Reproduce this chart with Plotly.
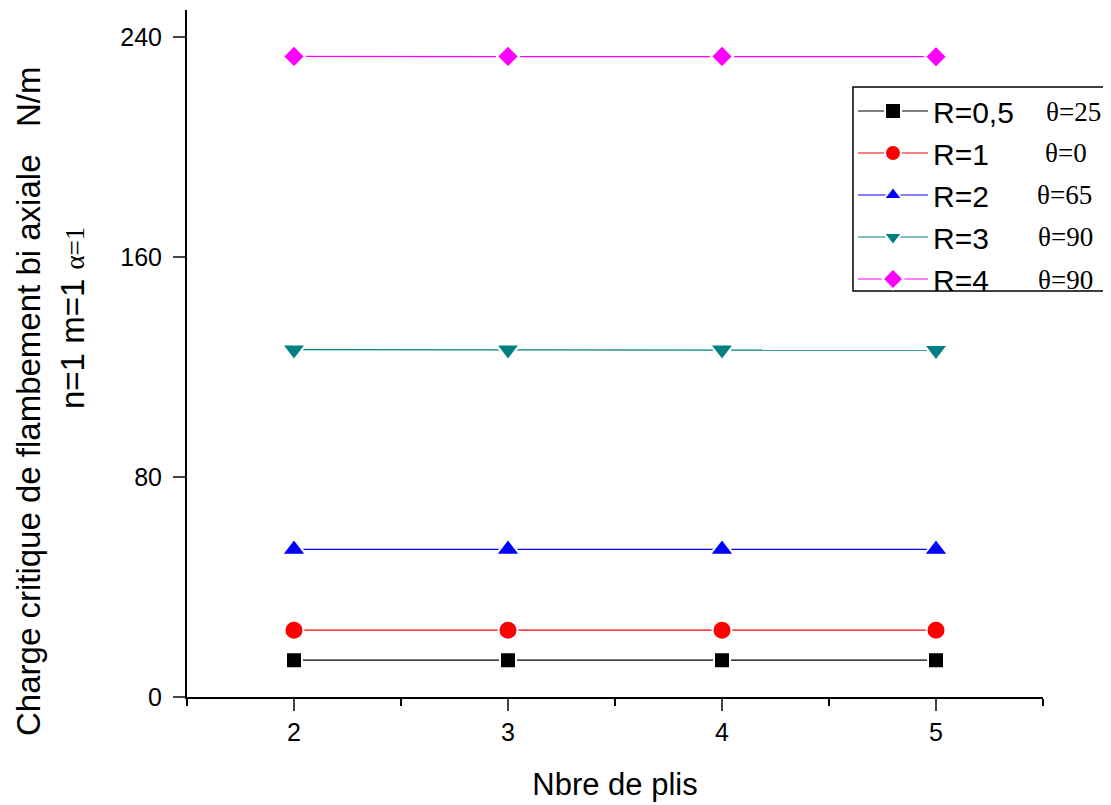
import plotly.graph_objects as go

plis = [2, 3, 4, 5]
series_names = ["R=0,5", "R=1", "R=2", "R=3", "R=4"]
theta_labels = ["θ=25", "θ=0", "θ=65", "θ=90", "θ=90"]
values = {
    "R=0,5": [13.4, 13.4, 13.4, 13.4],
    "R=1": [24.3, 24.3, 24.3, 24.3],
    "R=2": [53.7, 53.7, 53.7, 53.7],
    "R=3": [126.4, 126.4, 126.4, 126.2],
    "R=4": [233.1, 233.1, 233.1, 233.0],
}
colors = ["#000000", "#FF0000", "#0000FF", "#008080", "#FF00FF"]
symbols = ["square", "circle", "triangle-up", "triangle-down", "diamond"]
sizes = [16, 19, 21, 21, 17]
y_ticks = [0, 80, 160, 240]
x_ticks = [2, 3, 4, 5]

fig = go.Figure()
for i, name in enumerate(series_names):
    fig.add_trace(go.Scatter(
        x=plis, y=values[name], name=name, mode="lines+markers",
        line=dict(color=colors[i], width=1.2),
        marker=dict(symbol=symbols[i], size=sizes[i], color=colors[i],
                    line=dict(color="white", width=2)),
        legendgroup=name,
    ))

# page offset (body margin) = 8px
OFF = 8
W, H = 1103, 797
PL, PR, PT, PB = 187, 1043, 10, 697  # plot area in page pixels
L = PL - OFF
T = PT - OFF
pw, ph = PR - PL, PB - PT
R = W - L - pw
B = H - T - ph

def px_x(px):
    return (px - PL) / pw

def px_y(py):
    return (PB - py) / ph

annotations = []
theta_x = [1073, 1066, 1064, 1065, 1065]
theta_y = [112, 153, 195, 237, 280]
for lab, xx, yy in zip(theta_labels, theta_x, theta_y):
    annotations.append(dict(text=lab, x=px_x(xx), y=px_y(yy), xref="paper", yref="paper",
                            showarrow=False, xanchor="center", yanchor="middle",
                            font=dict(family="Liberation Serif", size=27, color="black")))
annotations.append(dict(text="Charge critique de flambement bi axiale   N/m",
                        x=px_x(28), y=px_y(402), xref="paper", yref="paper",
                        showarrow=False, textangle=-90, xanchor="center", yanchor="middle",
                        font=dict(family="Liberation Sans", size=33, color="black")))
annotations.append(dict(text="n=1 m=1 <span style='font-family:Liberation Serif;font-size:27px'>α=1</span>",
                        x=px_x(72), y=px_y(318), xref="paper", yref="paper",
                        showarrow=False, textangle=-90, xanchor="center", yanchor="middle",
                        font=dict(family="Liberation Sans", size=33, color="black")))

shapes = [dict(type="rect", xref="paper", yref="paper",
               x0=px_x(853), x1=px_x(1107), y0=px_y(291), y1=px_y(87),
               line=dict(color="black", width=1.5), fillcolor="rgba(0,0,0,0)", layer="above")]

fig.update_layout(
    width=W, height=H,
    margin=dict(l=L, r=R, t=T, b=B),
    paper_bgcolor="white", plot_bgcolor="white",
    font=dict(family="Liberation Sans", color="black"),
    xaxis=dict(range=[1.5, 5.5], tickvals=x_ticks, ticks="outside", ticklen=12, tickwidth=2,
               showline=True, linewidth=2, linecolor="black", showgrid=False, zeroline=False,
               tickfont=dict(size=25), title=dict(text="Nbre de plis", font=dict(size=31), standoff=28),
               minor=dict(tickvals=[1.5, 2.5, 3.5, 4.5, 5.5], ticks="outside", ticklen=7, tickwidth=2,
                          tickcolor="black")),
    yaxis=dict(range=[0, 250], tickvals=y_ticks, ticks="outside", ticklen=12, tickwidth=2,
               showline=True, linewidth=2, linecolor="black", showgrid=False, zeroline=False,
               tickfont=dict(size=25), ticklabelstandoff=6),
    legend=dict(x=px_x(853), y=px_y(85), xanchor="left", yanchor="top",
                borderwidth=0, bgcolor="rgba(0,0,0,0)",
                font=dict(family="Liberation Sans", size=30, color="black"),
                itemwidth=70, tracegroupgap=0),
    annotations=annotations,
    shapes=shapes,
    showlegend=True,
)
fig.write_html("out.html")
